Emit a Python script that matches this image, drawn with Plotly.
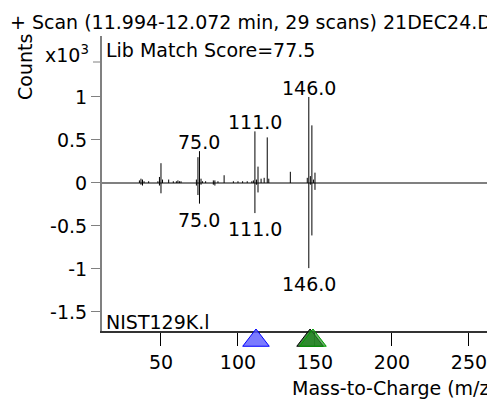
import plotly.graph_objects as go

# sample spectrum (upper), counts x10^3
sample_mz = [36, 37, 38, 39, 42, 48, 49, 50, 51, 55, 58, 60, 61, 62, 63,
             73, 74, 75, 76, 77, 79, 84, 85, 87, 91, 97, 100, 103, 106, 109,
             110, 111, 112, 113, 115, 117, 119, 120, 134, 145, 146, 147, 148,
             149, 150]
sample_cts = [0.03, 0.05, 0.04, 0.02, 0.02, 0.02, 0.07, 0.23, 0.04, 0.04, 0.02, 0.02, 0.03, 0.02, 0.02,
              0.04, 0.30, 0.37, 0.05, 0.02, 0.02, 0.03, 0.03, 0.02, 0.09, 0.02, 0.02, 0.02, 0.02, 0.02,
              0.03, 0.60, 0.04, 0.19, 0.05, 0.06, 0.53, 0.05, 0.13, 0.06, 1.00, 0.08, 0.67,
              0.04, 0.12]

# library spectrum (lower, NIST129K.l), counts x10^3
lib_mz = [37, 38, 49, 50, 73, 74, 75, 76, 84, 85, 111, 112, 113, 146, 147, 148, 150]
lib_cts = [-0.02, -0.03, -0.03, -0.12, -0.03, -0.14, -0.24, -0.02, -0.02, -0.03,
           -0.35, -0.02, -0.11, -0.99, -0.02, -0.61, -0.08]

labeled_mz = [75, 111, 146]

ytick_vals = [-1.5, -1, -0.5, 0, 0.5, 1]
ytick_text = ["-1.5", "-1", "-0.5", "0", "0.5", "1"]

# qualifier ion markers on the m/z axis
blue_mark_mz = [111.7]
green_mark_mz = [146.8, 148.7]

X_RANGE = [11.7, 272.1]
Y_RANGE = [-1.721, 1.709]
FONT = "Verdana, DejaVu Sans, sans-serif"

# fig geometry (figure pixels): plot top 28, x axis at 323, paper bottom at 360
AXIS_Y, PAPER_BOTTOM, PAPER_H = 323, 360, 332
strip = (PAPER_BOTTOM - AXIS_Y) / PAPER_H


def sticks(mz, cts):
    xs, ys = [], []
    for m, c in zip(mz, cts):
        xs += [m, m, None]
        ys += [0, c, None]
    return xs, ys


def px(x, y):
    # page pixel -> paper coords (page has an 8px body margin)
    return (x - 102) / 401, (PAPER_BOTTOM + 8 - y) / PAPER_H


fig = go.Figure()

for mz, cts in [(sample_mz, sample_cts), (lib_mz, lib_cts)]:
    xs, ys = sticks(mz, cts)
    fig.add_trace(go.Scatter(x=xs, y=ys, mode="lines",
                             line=dict(color="black", width=1),
                             hoverinfo="skip", showlegend=False))

mark_y = -9.5
fig.add_trace(go.Scatter(
    x=blue_mark_mz, y=[mark_y] * len(blue_mark_mz), mode="markers",
    xaxis="x2", yaxis="y2",
    marker=dict(symbol="triangle-up", size=23, color="rgba(90,90,255,0.8)",
                line=dict(color="#0000ff", width=1)),
    cliponaxis=False, showlegend=False, hoverinfo="skip"))
for m, lc, fc in zip(green_mark_mz, ["black", "#00a000"],
                     ["rgba(30,110,30,0.85)", "rgba(40,140,40,0.7)"]):
    fig.add_trace(go.Scatter(
        x=[m], y=[mark_y], mode="markers", xaxis="x2", yaxis="y2",
        marker=dict(symbol="triangle-up", size=23, color=fc,
                    line=dict(color=lc, width=1)),
        cliponaxis=False, showlegend=False, hoverinfo="skip"))

# peak labels
for m in labeled_mz:
    up = sample_cts[sample_mz.index(m)]
    dn = lib_cts[lib_mz.index(m)]
    fig.add_annotation(x=m, y=up, text=f"{m:.1f}", showarrow=False,
                       yanchor="bottom", yshift=-4)
    fig.add_annotation(x=m, y=dn, text=f"{m:.1f}", showarrow=False,
                       yanchor="top", yshift=-3)


def note(x, y, text, xanchor="center", yanchor="middle", **kw):
    ax, ay = px(x, y)
    fig.add_annotation(xref="paper", yref="paper", x=ax, y=ay, text=text,
                       xanchor=xanchor, yanchor=yanchor, showarrow=False, **kw)


note(8, 22, "+ Scan (11.994-12.072 min, 29 scans) 21DEC24.D", xanchor="left")
note(104, 50, "Lib Match Score=77.5", xanchor="left")
note(25, 67, "Counts", textangle=-90)
note(91, 54, "x10<sup>3</sup>", xanchor="right")
note(104, 335, "NIST129K.l", xanchor="left", yanchor="bottom")
note(290, 388, "Mass-to-Charge (m/z)", xanchor="left")

# frame lines and neighbouring-panel fragments
shapes = [
    (5, 3, 5, 410, "#a8a8a8", 2),
    (5, 3, 503, 3, "#a8a8a8", 2),
    (93, 62, 102, 62, "#808080", 1),
    (0, 57, 3, 57, "#3030ff", 1),
    (0, 61, 3, 61, "#3030ff", 1),
    (0, 306, 3, 306, "#008000", 1),
    (0, 332, 3, 332, "#404040", 1),
]
for x0, y0, x1, y1, c, w in shapes:
    a0, b0 = px(x0, y0)
    a1, b1 = px(x1, y1)
    fig.add_shape(type="line", xref="paper", yref="paper", x0=a0, y0=b0,
                  x1=a1, y1=b1, line=dict(color=c, width=w))

fig.update_layout(
    width=495, height=400,
    margin=dict(l=94, r=0, t=28, b=400 - PAPER_BOTTOM),
    paper_bgcolor="white", plot_bgcolor="rgba(0,0,0,0)",
    font=dict(family=FONT, size=19, color="black"),
    showlegend=False,
    xaxis=dict(range=X_RANGE, tick0=0, dtick=50, ticks="outside", ticklen=13,
               tickwidth=1, tickcolor="black", showline=True,
               linecolor="#333333", linewidth=1.5, showgrid=False,
               zeroline=False),
    yaxis=dict(range=Y_RANGE, domain=[strip, 1], tickvals=ytick_vals,
               ticktext=ytick_text, ticks="outside", ticklen=9,
               tickcolor="#808080", showline=True, linecolor="#808080",
               linewidth=2, showgrid=False, zeroline=True,
               zerolinecolor="#808080", zerolinewidth=2),
    xaxis2=dict(matches="x", anchor="y2", visible=False),
    yaxis2=dict(range=[-(PAPER_BOTTOM - AXIS_Y), 0], domain=[0, strip],
                anchor="x2", visible=False),
)

fig.write_html("out.html")
